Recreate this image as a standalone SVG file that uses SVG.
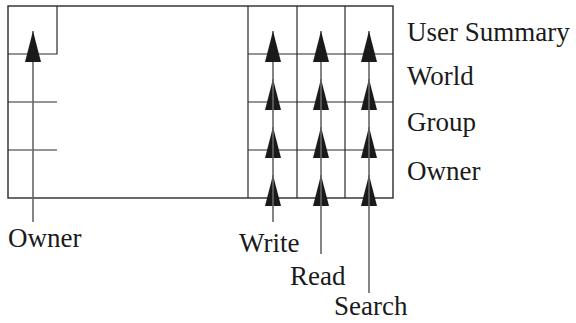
<svg xmlns="http://www.w3.org/2000/svg" width="576" height="323" viewBox="0 0 576 323">
<style>
.frame{fill:none;stroke:#2a2a2a;stroke-width:1.4}
.cell{fill:none;stroke:#2a2a2a;stroke-width:1.2}
.stem{stroke:#666;stroke-width:1.6;fill:none;marker-end:url(#ah)}
.lbl{font-size:27px;fill:#1a1a1a}
</style>
<defs>
<marker id="ah" markerUnits="userSpaceOnUse" viewBox="0 0 31 16" markerWidth="31" markerHeight="16" refX="31" refY="8" orient="auto">
<path d="M0,0 L31,8 L0,16 z" fill="#1a1a1a"/>
</marker>
</defs>
<rect width="576" height="323" fill="#fff"/>
<g id="record">
<rect class="frame" x="8" y="6" width="385" height="192"/>
<path class="cell" d="M57,6 V54 H8 M8,102 H57 M8,150 H57"/>
<path class="cell" d="M248,6 V198 M297,6 V198 M345,6 V198 M248,54 H393 M248,102 H393 M248,150 H393"/>
</g>
<g id="connectors">
<line class="stem" x1="33" y1="222" x2="33" y2="31"/>
<line class="stem" x1="273" y1="222" x2="273" y2="175"/>
<line class="stem" x1="273" y1="206" x2="273" y2="127"/>
<line class="stem" x1="273" y1="158" x2="273" y2="79"/>
<line class="stem" x1="273" y1="110" x2="273" y2="31"/>
<line class="stem" x1="321" y1="254" x2="321" y2="175"/>
<line class="stem" x1="321" y1="206" x2="321" y2="127"/>
<line class="stem" x1="321" y1="158" x2="321" y2="79"/>
<line class="stem" x1="321" y1="110" x2="321" y2="31"/>
<line class="stem" x1="369" y1="293" x2="369" y2="175"/>
<line class="stem" x1="369" y1="206" x2="369" y2="127"/>
<line class="stem" x1="369" y1="158" x2="369" y2="79"/>
<line class="stem" x1="369" y1="110" x2="369" y2="31"/>
</g>
<g font-family="'Liberation Serif', 'DejaVu Serif', serif">
<g id="label-user-summary"><text class="lbl" x="407" y="41">User Summary</text></g>
<g id="label-world"><text class="lbl" x="407" y="85">World</text></g>
<g id="label-group"><text class="lbl" x="407" y="131">Group</text></g>
<g id="label-owner-row"><text class="lbl" x="407" y="180">Owner</text></g>
<g id="label-owner"><text class="lbl" x="8" y="247">Owner</text></g>
<g id="label-write"><text class="lbl" x="239" y="252">Write</text></g>
<g id="label-read"><text class="lbl" x="290" y="285">Read</text></g>
<g id="label-search"><text class="lbl" x="334" y="315">Search</text></g>
</g>
</svg>
